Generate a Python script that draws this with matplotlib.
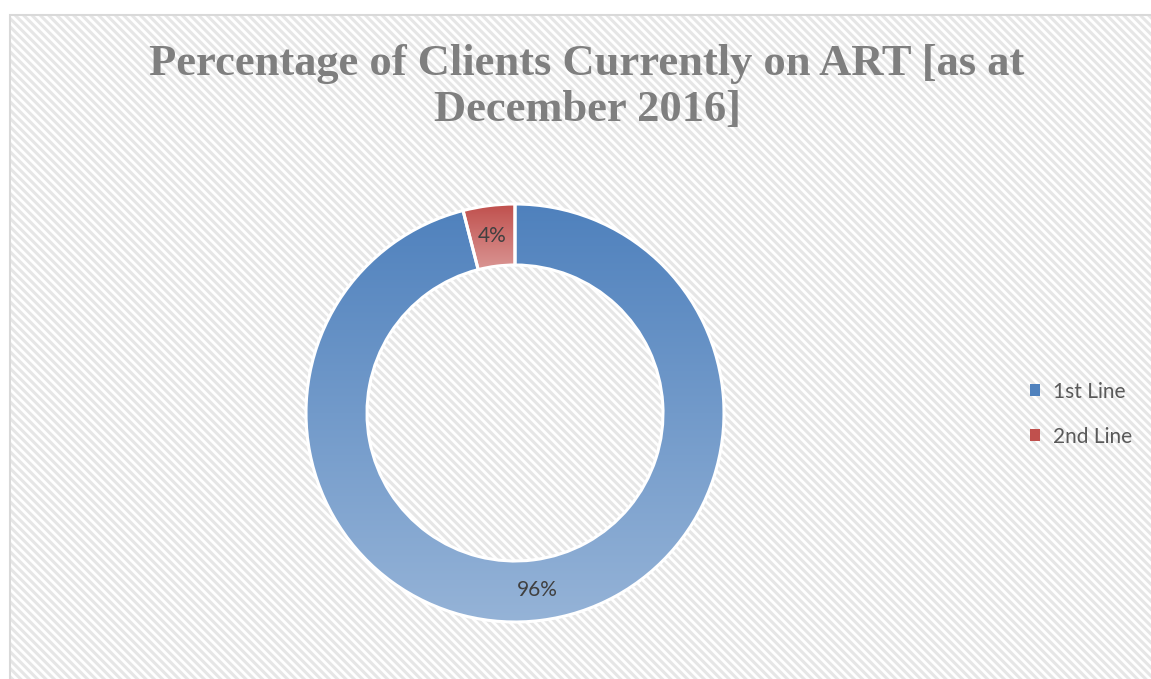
import numpy as np
import matplotlib
matplotlib.use("Agg")
import matplotlib.pyplot as plt
from matplotlib.patches import Rectangle, Patch
from matplotlib.colors import to_rgb

plt.rcParams["hatch.linewidth"] = 2.2

title = "Percentage of Clients Currently on ART [as at\nDecember 2016]"
categories = ["1st Line", "2nd Line"]
shares = [96, 4]
top_colors = ["#4F81BD", "#C0504D"]
bottom_colors = ["#95B3D7", "#DA9694"]

W, H = 1151, 679
fig = plt.figure(figsize=(W / 100, H / 100), dpi=100)
ax = fig.add_axes([0, 0, 1, 1])

# chart area: white with light diagonal stripes and a thin grey border
ax.add_patch(Rectangle((10, -10), W, H - 5, facecolor="white", edgecolor="#E6E6E6",
                       hatch="\\\\\\\\", linewidth=0, zorder=0))
ax.add_patch(Rectangle((10, -10), W, H - 5, facecolor="none", edgecolor="#D9D9D9",
                       linewidth=1.5, zorder=0.5))

cx, cy, R, ring = 515, H - 413, 209, 61
wedges, texts, autotexts = ax.pie(
    shares, center=(cx, cy), radius=R, startangle=90, counterclock=False,
    autopct="%1.0f%%", pctdistance=(R - ring / 2) / R, frame=True,
    wedgeprops=dict(width=ring, edgecolor="white", linewidth=2.2),
    textprops=dict(fontsize=15, color="#404040", family="Lato"),
)

# vertical gradient fill for each slice, clipped to the slice
for w, c0, c1 in zip(wedges, top_colors, bottom_colors):
    ext = w.get_path().get_extents(w.get_patch_transform())
    t = np.linspace(0, 1, 256)[:, None, None]
    grad = (1 - t) * np.array(to_rgb(c0)) + t * np.array(to_rgb(c1))
    im = ax.imshow(grad, extent=(ext.x0, ext.x1, ext.y0, ext.y1), origin="upper",
                   aspect="auto", interpolation="bilinear", zorder=1)
    im.set_clip_path(w)
    w.set_facecolor("none")
    w.set_zorder(2)
for t in autotexts:
    t.set_zorder(3)
ax.set_xlim(0, W)
ax.set_ylim(0, H)
ax.axis("off")

ax.text(587, H - 87, title, ha="center", va="center", fontsize=32,
        fontweight="bold", family="Liberation Serif", color="#7F7F7F",
        linespacing=1.22, zorder=3)

handles = [Patch(facecolor=c, edgecolor="none") for c in top_colors]
leg = ax.legend(handles, categories, loc="center left", bbox_to_anchor=(1011 / W, 1 - 414 / H),
                frameon=False, handlelength=0.5, handleheight=0.5,
                handletextpad=0.6, labelspacing=1.2, prop=dict(family="Lato", size=15))
for t in leg.get_texts():
    t.set_color("#595959")

fig.savefig("out.png", dpi=100)
